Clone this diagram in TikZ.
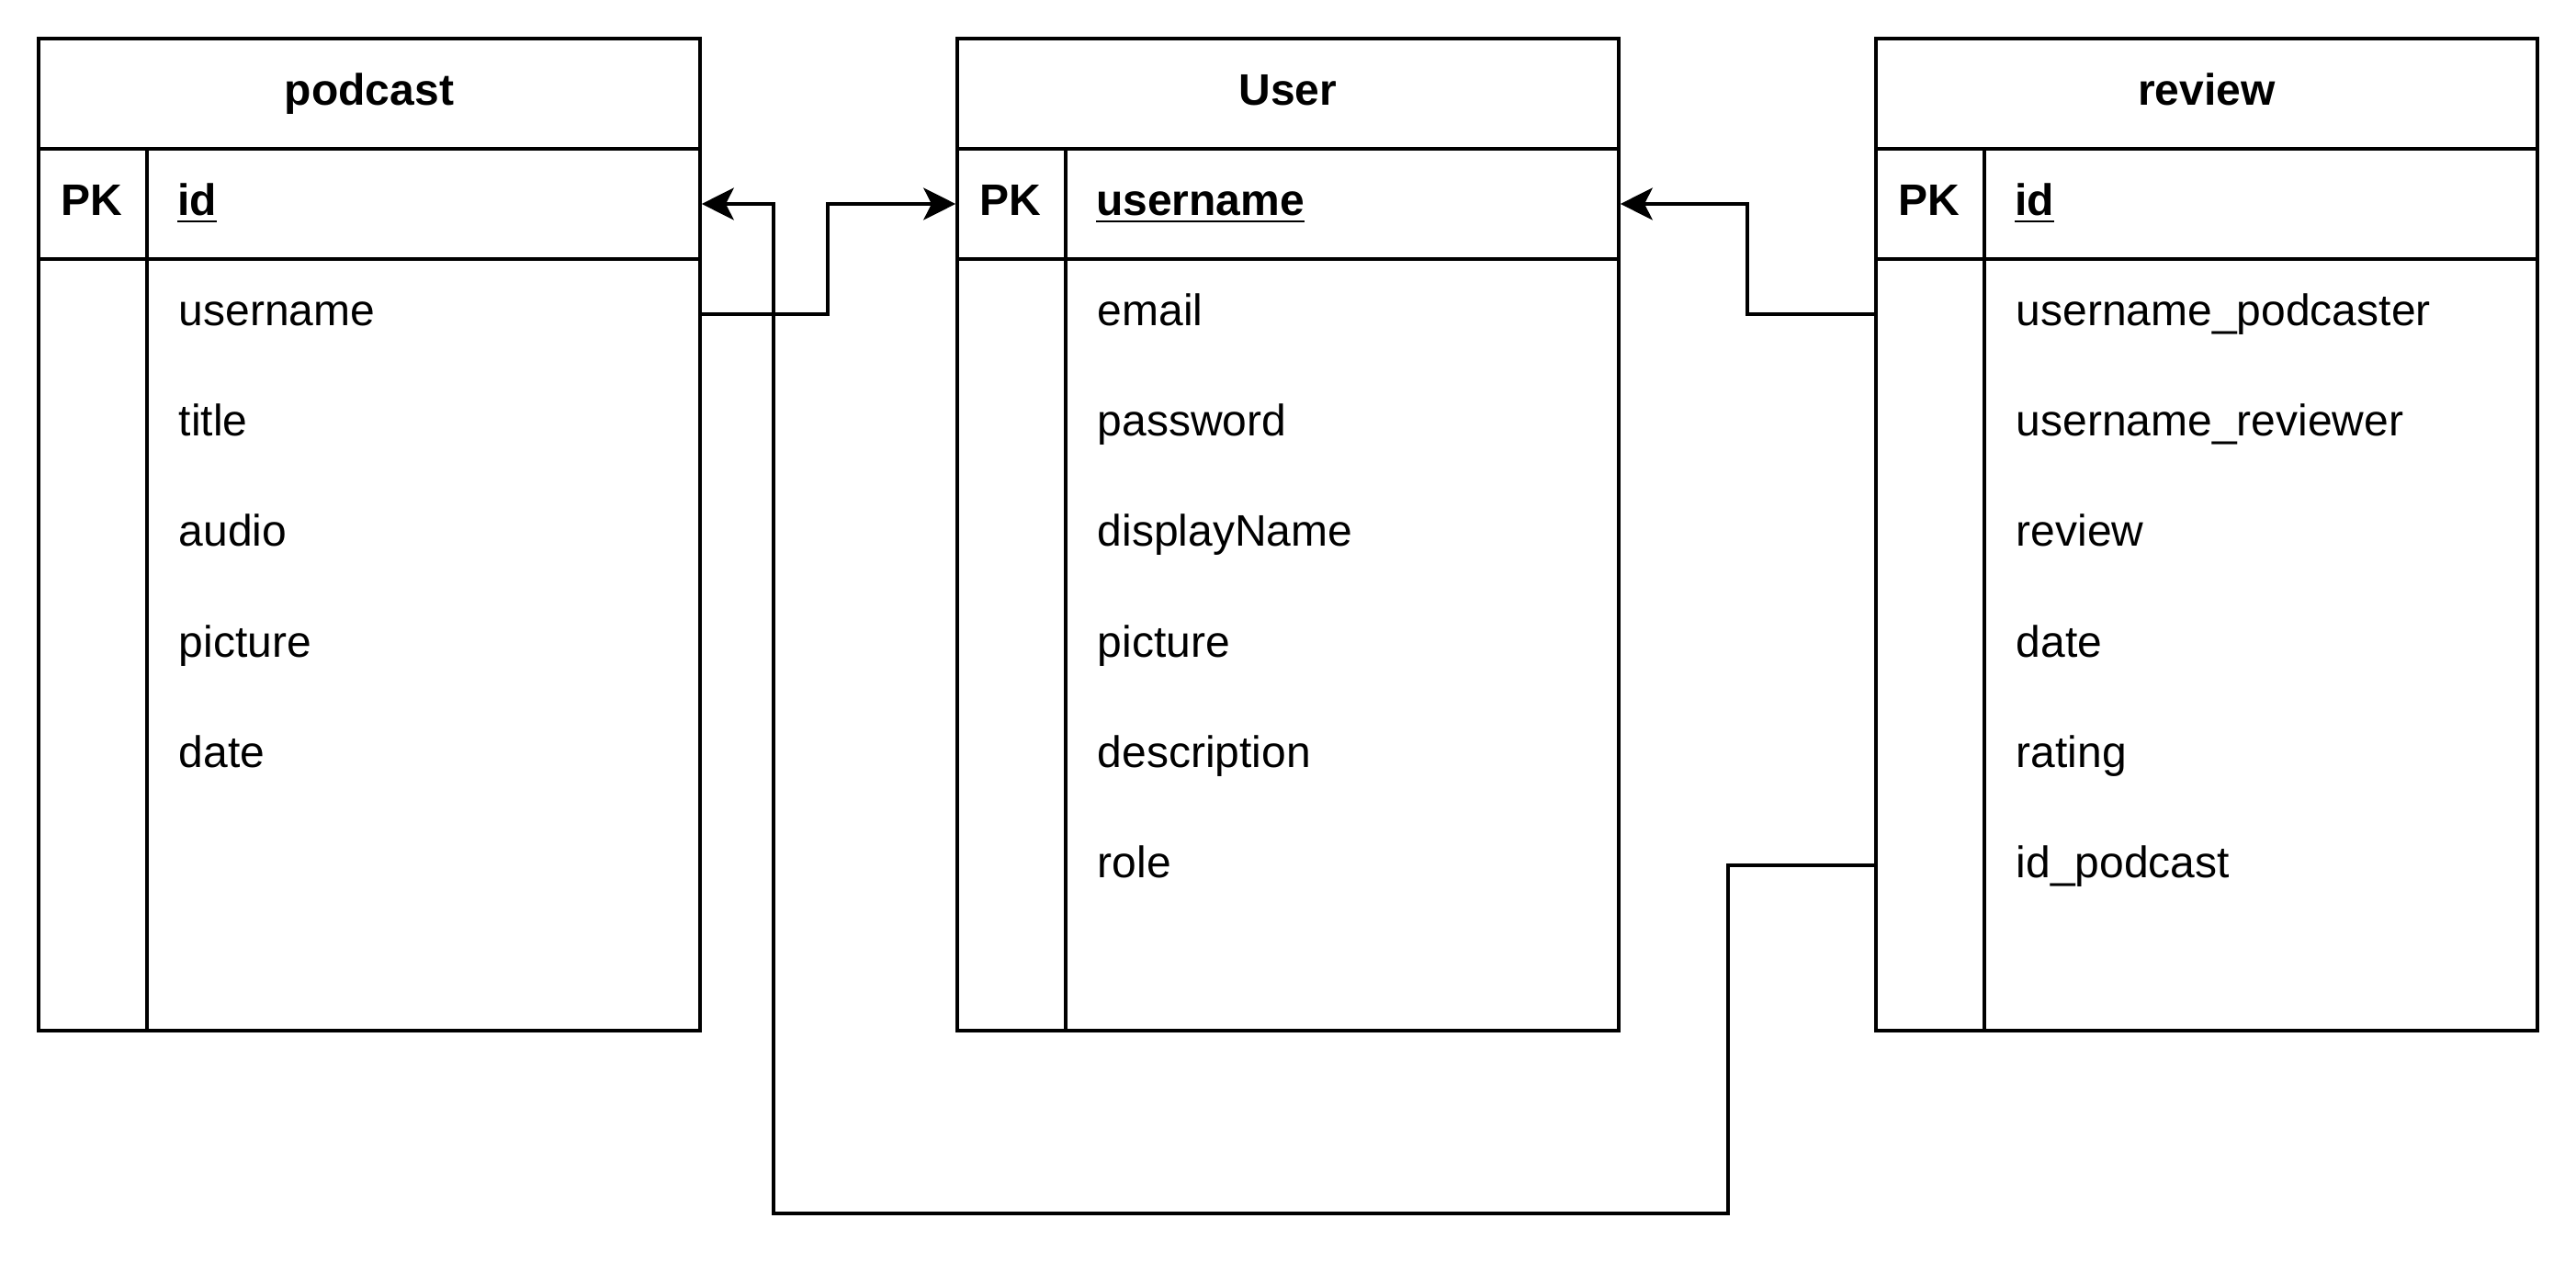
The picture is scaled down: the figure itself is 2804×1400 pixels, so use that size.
\documentclass[tikz,border=0pt]{standalone}
\usepackage{fontspec}
\setmainfont{Liberation Sans}
\usetikzlibrary{arrows.meta,calc}
\tikzset{
  edge/.style={line width=0.9pt},
  hdr/.style={draw, line width=0.9pt, minimum width=180pt, minimum height=30pt, inner sep=0pt,
              text height=9pt, text depth=2.5pt, font=\fontsize{12pt}{14pt}\selectfont\bfseries},
  pkrow/.style={draw, line width=0.9pt, minimum width=180pt, minimum height=30pt, inner sep=0pt},
  bodyrow/.style={draw, line width=0.9pt, minimum width=180pt, minimum height=210pt, inner sep=0pt},
  lbl/.style={inner sep=0pt, text height=9pt, text depth=2.5pt, font=\fontsize{12pt}{14pt}\selectfont},
  pklabel/.style={lbl, font=\fontsize{12pt}{14pt}\selectfont\bfseries},
  keylabel/.style={lbl, anchor=west, font=\fontsize{12pt}{14pt}\selectfont\bfseries},
  fieldlabel/.style={lbl, anchor=west},
  conn/.style={line width=0.9pt, rounded corners=0pt,
               -{Stealth[length=8.75pt, width=8.75pt, inset=2.2pt]}},
}
\newcommand\ertable[5]{%
  \node[hdr] (#1-h) at (#2+360,102) {#3};
  \node[pkrow] (#1-pk) at (#2+360,222) {};
  \node[bodyrow] (#1-b) at (#2+360,702) {};
  \draw[edge] ([xshift=30pt]#1-pk.north west) -- ([xshift=30pt]#1-b.south west);
  \node[pklabel] (#1-pkl) at ([xshift=15pt]#1-pk.west) {PK};
  \node[keylabel] (#1-key) at ([xshift=38pt]#1-pk.west) {\underline{#4}};
  \foreach \f [count=\i] in {#5} {\node[fieldlabel] (#1-f\i) at (#2+152, 222+120*\i) {\f};}
}
\begin{document}
\begin{tikzpicture}[x=0.25pt, y=-0.25pt]
  \useasboundingbox (0,0) rectangle (2804,1400);
  \ertable{podcast}{42}{podcast}{id}{username,title,audio,picture,date}
  \ertable{user}{1042}{User}{username}{email,password,displayName,picture,description,role}
  \ertable{review}{2042}{review}{id}{username\_podcaster,username\_reviewer,review,date,rating,id\_podcast}
  \coordinate (j1) at (901,0);
  \coordinate (j2) at (1902,0);
  \coordinate (j3) at (1881,1321);
  \coordinate (j4) at (842,1321);
  \draw[conn] (podcast-f1 -| podcast-b.east) -| (j1 |- user-pk) -- (user-pk.west);
  \draw[conn] (review-f1 -| review-b.west) -| (j2 |- user-pk) -- (user-pk.east);
  \draw[conn] (review-f6 -| review-b.west) -| (j3) -| (j4 |- podcast-pk) -- (podcast-pk.east);
\end{tikzpicture}
\end{document}
